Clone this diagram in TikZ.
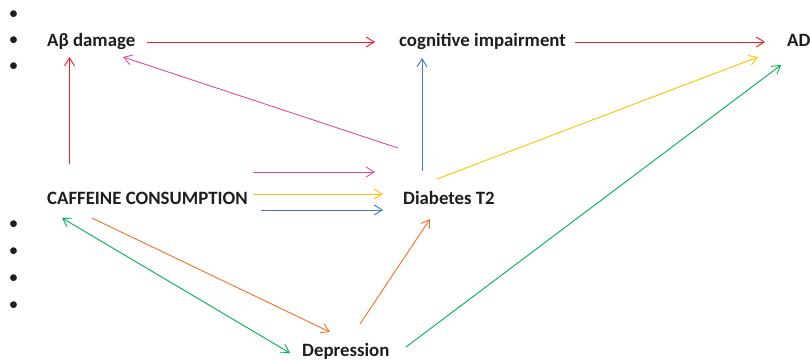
\documentclass[tikz,border=0pt]{standalone}
\usepackage{fontspec}
\setmainfont{Carlito}
\usetikzlibrary{arrows.meta,calc}
\definecolor{cred}{RGB}{232,30,40}
\definecolor{cpink}{RGB}{222,76,158}
\definecolor{cyel}{RGB}{255,192,0}
\definecolor{cblue}{RGB}{68,114,196}
\definecolor{corange}{RGB}{242,112,40}
\definecolor{cgreen}{RGB}{0,176,80}
\definecolor{ctext}{RGB}{30,30,30}
\tikzset{
  lbl/.style={anchor=base west,inner sep=0pt,font=\fontsize{18.8}{22}\selectfont\bfseries,text=ctext},
  bul/.style={anchor=base,inner sep=0pt,font=\fontsize{19}{22}\selectfont,text=ctext},
  conn/.style={line width=0.9pt,-{Straight Barb[length=8pt,width=10pt]}},
  conn2/.style={line width=0.9pt,{Straight Barb[length=8pt,width=10pt]}-{Straight Barb[length=8pt,width=10pt]}}
}
\begin{document}
\begin{tikzpicture}[x=1pt,y=-1pt]
\useasboundingbox (0,0) rectangle (810,360);
% bullets
\foreach \y/\n in {19/b1,45/b2,71/b3,229/b4,256/b5,283/b6,310/b7}
  \node[bul] (\n) at (13.5,\y) {•};
% labels
\node[lbl] (ab) at (47,46) {Aβ damage};
\node[lbl] (cog) at (399,46) {cognitive impairment};
\node[lbl] (ad) at (787,46) {AD};
\node[lbl] (caff) at (47,204) {CAFFEINE CONSUMPTION};
\node[lbl] (diab) at (403,204) {Diabetes T2};
\node[lbl] (dep) at (302,356.5) {Depression};
% connectors
\draw[conn,cred] ($(ab.base west)+(100,-4)$) -- ($(cog.base west)+(-24,-4)$);
\draw[conn,cred] ($(cog.base west)+(176,-4)$) -- ($(ad.base west)+(-22,-4)$);
\draw[conn,cred] ($(caff.base west)+(22.5,-40)$) -- ($(ab.base west)+(22.5,11)$);
\draw[conn,cpink] ($(diab.base west)+(-5,-56)$) -- ($(ab.base west)+(76,11)$);
\draw[conn,cpink] ($(caff.base west)+(206,-32)$) -- ($(diab.base west)+(-28,-32)$);
\draw[conn,cyel] ($(caff.base west)+(206,-10)$) -- ($(diab.base west)+(-20,-10)$);
\draw[conn,cblue] ($(caff.base west)+(214,6)$) -- ($(diab.base west)+(-20,6)$);
\draw[conn,cblue] ($(diab.base west)+(19,-33)$) -- ($(cog.base west)+(23,12)$);
\draw[conn,cyel] ($(diab.base west)+(34,-25)$) -- ($(ad.base west)+(-29,11)$);
\draw[conn,corange] ($(caff.base west)+(45,14)$) -- ($(dep.base west)+(28,-24.5)$);
\draw[conn,corange] ($(dep.base west)+(58,-32.5)$) -- ($(diab.base west)+(27,15)$);
\draw[conn2,cgreen] ($(caff.base west)+(15,14)$) -- ($(dep.base west)+(-12,-3.5)$);
\draw[conn,cgreen] ($(dep.base west)+(104,-9.5)$) -- ($(ad.base west)+(-6,19)$);
\end{tikzpicture}
\end{document}
